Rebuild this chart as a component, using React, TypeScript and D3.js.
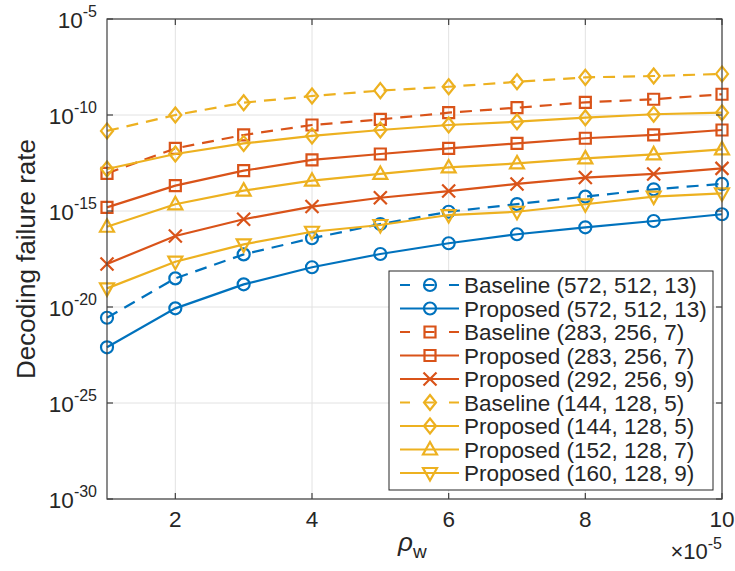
import React from "react";
import * as d3 from "d3";

// x values (rho_w, in units of 1e-5)
const rhoW = [1, 2, 3, 4, 5, 6, 7, 8, 9, 10];
const xTicks = [2, 4, 6, 8, 10];
const yTickExps = [-30, -25, -20, -15, -10, -5];

// decoding failure rate, stored as log10 exponents
const baseline572 = [-20.56, -18.51, -17.26, -16.42, -15.68, -15.04, -14.64, -14.25, -13.87, -13.59];
const proposed572 = [-22.1, -20.07, -18.82, -17.93, -17.24, -16.68, -16.21, -15.85, -15.52, -15.17];
const baseline283 = [-13.04, -11.74, -11.04, -10.52, -10.23, -9.88, -9.62, -9.34, -9.18, -8.92];
const proposed283 = [-14.81, -13.68, -12.9, -12.34, -12.03, -11.74, -11.48, -11.21, -11.04, -10.78];
const proposed292 = [-17.76, -16.3, -15.43, -14.77, -14.31, -13.96, -13.59, -13.26, -13.07, -12.78];
const baseline144 = [-10.83, -10.0, -9.36, -9.01, -8.73, -8.53, -8.27, -8.04, -7.97, -7.86];
const proposed144 = [-12.81, -12.03, -11.48, -11.09, -10.78, -10.52, -10.35, -10.14, -9.96, -9.88];
const proposed152 = [-15.82, -14.65, -13.94, -13.42, -13.07, -12.73, -12.52, -12.26, -12.05, -11.79];
const proposed160 = [-19.03, -17.64, -16.74, -16.08, -15.73, -15.21, -15.04, -14.65, -14.25, -14.08];

const seriesNames = [
  "Baseline (572, 512, 13)",
  "Proposed (572, 512, 13)",
  "Baseline (283, 256, 7)",
  "Proposed (283, 256, 7)",
  "Proposed (292, 256, 9)",
  "Baseline (144, 128, 5)",
  "Proposed (144, 128, 5)",
  "Proposed (152, 128, 7)",
  "Proposed (160, 128, 9)",
];
const seriesData = [
  baseline572, proposed572, baseline283, proposed283, proposed292,
  baseline144, proposed144, proposed152, proposed160,
];

const BLUE = "#0072BD";
const RED = "#D95319";
const YEL = "#EDB120";
const styles = [
  { color: BLUE, dashed: true, marker: "circle" },
  { color: BLUE, dashed: false, marker: "circle" },
  { color: RED, dashed: true, marker: "square" },
  { color: RED, dashed: false, marker: "square" },
  { color: RED, dashed: false, marker: "x" },
  { color: YEL, dashed: true, marker: "diamond" },
  { color: YEL, dashed: false, marker: "diamond" },
  { color: YEL, dashed: false, marker: "up" },
  { color: YEL, dashed: false, marker: "down" },
];

const W = 735, H = 571;
const L = 107, R = 722, T = 19, B = 499;
const TXT = "#262626";
const FONT = "'Liberation Sans', Arial, Helvetica, sans-serif";

function markerPath(kind: string): string {
  switch (kind) {
    case "circle": {
      const r = 6;
      return `M${-r},0A${r},${r} 0 1,0 ${r},0A${r},${r} 0 1,0 ${-r},0Z`;
    }
    case "square": {
      const s = 5.5;
      return `M${-s},${-s}L${s},${-s}L${s},${s}L${-s},${s}Z`;
    }
    case "diamond":
      return "M0,-7.5L6,0L0,7.5L-6,0Z";
    case "up":
      return "M0,-7.5L7,5L-7,5Z";
    case "down":
      return "M0,7.5L7,-5L-7,-5Z";
    case "x":
      return "M-6.5,-6.5L6.5,6.5M-6.5,6.5L6.5,-6.5";
  }
  return "";
}

export default function App() {
  const x = d3.scaleLinear().domain([1, 10]).range([L, R]);
  const y = d3.scaleLog().domain([1e-30, 1e-5]).range([B, T]);
  const line = d3
    .line<number>()
    .x((_, i) => x(rhoW[i]))
    .y((v) => y(Math.pow(10, v)));

  const legX = 389, legY = 271, legW = 324, legH = 219;
  const rowH = 23.5;

  return (
    <div style={{ position: "absolute", left: 0, top: 0 }}>
      <svg width={W} height={H} style={{ display: "block", background: "#fff" }} fontFamily={FONT}>
        <rect x={0} y={0} width={W} height={H} fill="#fff" />
        {/* grid */}
        {xTicks.map((t) => (
          <line key={"gx" + t} x1={x(t)} x2={x(t)} y1={T} y2={B} stroke="#e2e2e2" strokeWidth={1} />
        ))}
        {yTickExps.map((e) => (
          <line key={"gy" + e} x1={L} x2={R} y1={y(Math.pow(10, e))} y2={y(Math.pow(10, e))} stroke="#e2e2e2" strokeWidth={1} />
        ))}
        {/* series */}
        {seriesData.map((d, si) => {
          const st = styles[si];
          return (
            <g key={"s" + si}>
              <path
                d={line(d) || ""}
                fill="none"
                stroke={st.color}
                strokeWidth={2.2}
                strokeDasharray={st.dashed ? "12,8" : undefined}
              />
              {d.map((v, i) => (
                <path
                  key={i}
                  d={markerPath(st.marker)}
                  transform={`translate(${x(rhoW[i])},${y(Math.pow(10, v))})`}
                  fill="none"
                  stroke={st.color}
                  strokeWidth={2.2}
                />
              ))}
            </g>
          );
        })}
        {/* axes box */}
        <rect x={L} y={T} width={R - L} height={B - T} fill="none" stroke="#404040" strokeWidth={1.2} />
        {xTicks.map((t) => (
          <g key={"xt" + t}>
            <line x1={x(t)} x2={x(t)} y1={B} y2={B - 6} stroke="#404040" strokeWidth={1.2} />
            <line x1={x(t)} x2={x(t)} y1={T} y2={T + 6} stroke="#404040" strokeWidth={1.2} />
            <text x={x(t)} y={B + 28} textAnchor="middle" fontSize={22.5} fill={TXT}>
              {t}
            </text>
          </g>
        ))}
        {yTickExps.map((e) => {
          const yy = y(Math.pow(10, e));
          return (
            <g key={"yt" + e}>
              <line x1={L} x2={L + 6} y1={yy} y2={yy} stroke="#404040" strokeWidth={1.2} />
              <line x1={R} x2={R - 6} y1={yy} y2={yy} stroke="#404040" strokeWidth={1.2} />
              <text x={97} y={yy + 9} textAnchor="end" fontSize={22.5} fill={TXT}>
                10
                <tspan fontSize={16} dy={-11}>
                  {String(e)}
                </tspan>
              </text>
            </g>
          );
        })}
        {/* y label */}
        <text
          transform={`translate(35,${(T + B) / 2}) rotate(-90)`}
          textAnchor="middle"
          fontSize={26}
          fill={TXT}
        >
          Decoding failure rate
        </text>
        {/* x label */}
        <text x={398} y={551} fontSize={26} fill={TXT}>
          <tspan fontStyle="italic">ρ</tspan>
          <tspan fontSize={19} dy={7}>w</tspan>
        </text>
        <text x={R} y={559} textAnchor="end" fontSize={22} fill={TXT}>
          ×10
          <tspan fontSize={16} dy={-10}>-5</tspan>
        </text>
        {/* legend */}
        <rect x={legX} y={legY} width={legW} height={legH} fill="#fff" stroke="#262626" strokeWidth={1} />
        {seriesNames.map((name, i) => {
          const st = styles[i];
          const cy = legY + 14 + i * rowH;
          return (
            <g key={"lg" + i}>
              <line
                x1={400}
                x2={459}
                y1={cy}
                y2={cy}
                stroke={st.color}
                strokeWidth={2.2}
                strokeDasharray={st.dashed ? "10,14.5" : undefined}
              />
              <path d={markerPath(st.marker)} transform={`translate(430,${cy})`} fill="none" stroke={st.color} strokeWidth={2.2} />
              <text x={464} y={cy + 8} fontSize={22.5} fill={TXT}>
                {name}
              </text>
            </g>
          );
        })}
      </svg>
    </div>
  );
}
